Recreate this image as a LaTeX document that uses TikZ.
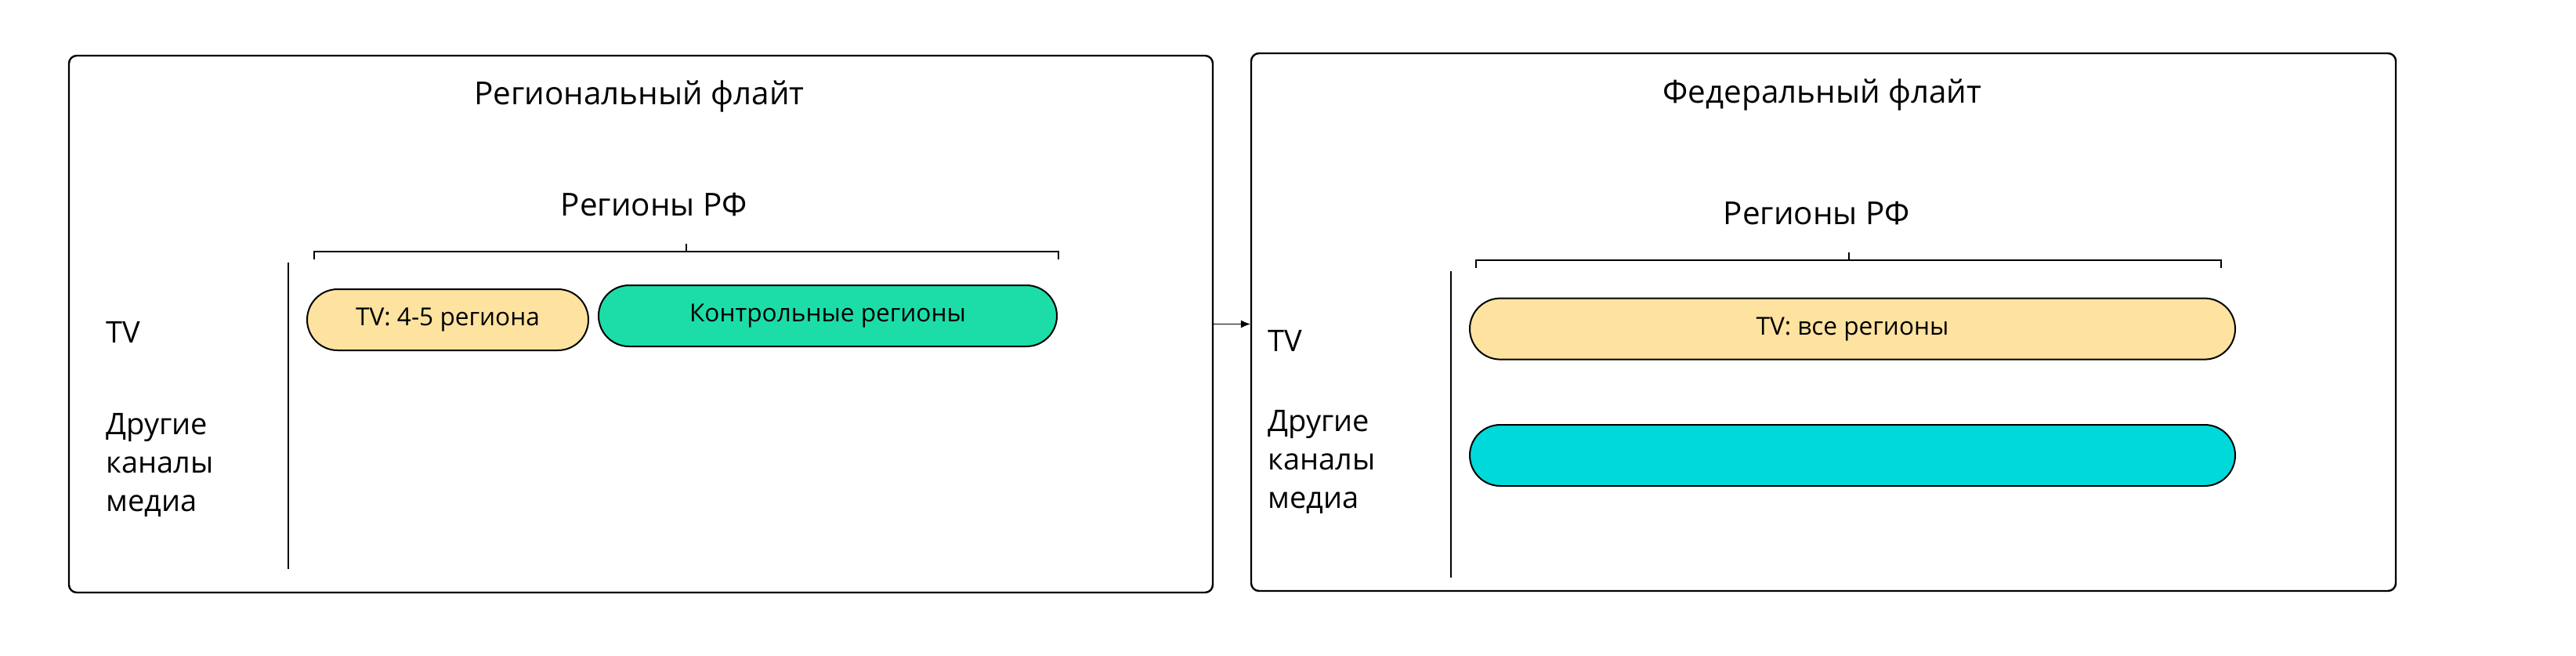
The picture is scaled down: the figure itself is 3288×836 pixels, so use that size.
\documentclass[tikz,border=0pt]{standalone}
\usepackage{fontspec}
\setmainfont{Open Sans}
\usetikzlibrary{arrows.meta,positioning,calc}

\definecolor{tvyellow}{HTML}{FEE2A0}
\definecolor{ctrlgreen}{HTML}{1CDDA8}
\definecolor{mediacyan}{HTML}{00D9D9}

\tikzset{
  panel/.style={draw, line width=1.2pt, rounded corners=5pt, inner sep=0pt},
  pill/.style={draw, line width=1pt, rounded corners=19.5pt, minimum height=39pt, inner sep=0pt, font=\fontsize{15.8}{18}\selectfont},
  head/.style={font=\fontsize{20.2}{24}\selectfont},
  rowlabel/.style={font=\fontsize{19}{24.5}\selectfont, align=left, anchor=west, inner sep=0pt},
  brace/.style={line width=0.9pt},
  axis/.style={line width=0.7pt},
}

\begin{document}
\begin{tikzpicture}[x=0.5pt,y=-0.5pt]
\useasboundingbox (0,0) rectangle (3288,836);

% left panel
\node[panel, minimum width=730pt, minimum height=342.5pt] (lbox) at (818,413.5) {};
\node[head] (ltitle) at (816,123) {Региональный флайт};
\node[head] (lregions) at (835,261) {Регионы РФ};
\coordinate (lbl) at (401,321);
\coordinate (lbr) at (1351,321);
\coordinate (lbm) at (876,321);
\draw[brace] ($(lbl)+(0,10)$) -- (lbl) -- (lbr) -- ++(0,10);
\draw[brace] (lbm) -- ++(0,-10);
\draw[axis] (368,335) -- (368,726);

\node[pill, fill=tvyellow, minimum width=179.5pt] (ltv) at (571.5,408) {\raisebox{-1pt}{TV: 4-5 региона}};
\node[pill, fill=ctrlgreen, minimum width=292.5pt] (lctrl) at (1056.5,403) {\raisebox{-1pt}{Контрольные регионы}};

\node[rowlabel] (ltvlab) at (135,424) {TV};
\node[rowlabel] (lotherlab) at (135,593) {Другие\\каналы\\медиа};

% right panel
\node[panel, minimum width=730.5pt, minimum height=343pt] (rbox) at (2327.5,411) {};
\node[head] (rtitle) at (2326,121) {Федеральный флайт};
\node[head] (rregions) at (2319,272) {Регионы РФ};
\coordinate (rbl) at (1884,332);
\coordinate (rbr) at (2835,332);
\coordinate (rbm) at (2360,332);
\draw[brace] ($(rbl)+(0,10)$) -- (rbl) -- (rbr) -- ++(0,10);
\draw[brace] (rbm) -- ++(0,-10);
\draw[axis] (1852,346) -- (1852,737);

\node[pill, fill=tvyellow, minimum width=488.5pt] (rtv) at (2364.5,419.6) {\raisebox{-1pt}{TV: все регионы}};
\node[pill, fill=mediacyan, minimum width=488.5pt] (rmedia) at (2364.5,581) {};

\node[rowlabel] (rtvlab) at (1618,435) {TV};
\node[rowlabel] (rotherlab) at (1618,589) {Другие\\каналы\\медиа};

% arrow between panels
\draw[-{Latex[length=6pt,width=5pt]}] (lbox.east) -- (lbox.east -| rbox.west);
\end{tikzpicture}
\end{document}
